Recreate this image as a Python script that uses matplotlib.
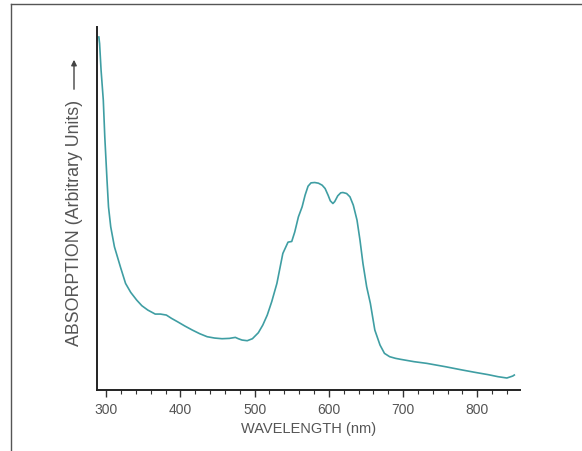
import matplotlib
matplotlib.use("Agg")
import matplotlib.pyplot as plt
from matplotlib.lines import Line2D
from matplotlib.ticker import MultipleLocator

# absorption spectrum (arbitrary units)
wavelength = [290, 291, 293, 296, 298, 301, 303, 306, 311, 315, 319, 326, 333,
              341, 348, 356, 366, 373, 381, 388, 396, 406, 416, 426, 436, 446,
              456, 466, 474, 478, 483, 490, 497, 505, 511, 517, 523, 530, 538,
              545, 550, 554, 559, 564, 568, 572, 576, 581, 586, 591, 595, 599,
              602, 605.5, 608, 612, 616, 619, 624, 628.5, 633, 638, 642, 646,
              651, 656, 662, 669, 675, 682, 690, 697, 715, 732, 757, 780, 797,
              815, 828, 840, 848, 850]
absorption = [106, 104, 96, 87, 76, 63, 55, 49, 43, 40, 37, 32, 29.3,
              27, 25.3, 24, 22.8, 22.8, 22.5, 21.5, 20.5, 19.2, 18, 16.9, 16, 15.6,
              15.4, 15.5, 15.8, 15.4, 15.0, 14.8, 15.4, 17.2, 19.5, 22.5, 26.5, 32, 41,
              44.4, 44.6, 47.4, 52, 55, 58.5, 61.2, 62.2, 62.3, 62.1, 61.5, 60.5, 58.5,
              56.8, 56, 56.6, 58.3, 59.2, 59.3, 59, 58, 55.5, 51, 45, 38,
              31, 26, 18, 13.5, 11, 10, 9.5, 9.2, 8.5, 8, 7, 6, 5.3,
              4.6, 4, 3.6, 4.2, 4.5]
xticks = [300, 400, 500, 600, 700, 800]

text_col = "#555555"
plt.rcParams["font.family"] = ["Liberation Sans", "DejaVu Sans"]

fig = plt.figure(figsize=(5.82, 4.51), dpi=100)
ax = fig.add_axes([97 / 582, 1 - 390 / 451, (520 - 97) / 582, (390 - 27) / 451])

ax.plot(wavelength, absorption, color="#3f9ea3", lw=1.2)

ax.set_xlim(287.5, 857.7)
ax.set_ylim(0, 109)
ax.set_xticks(xticks)
ax.xaxis.set_minor_locator(MultipleLocator(20))
ax.set_yticks([])
ax.tick_params(axis="x", which="major", direction="out", length=5, width=1,
               colors="#333333", labelcolor=text_col, labelsize=10, pad=4)
ax.tick_params(axis="x", which="minor", direction="out", length=3, width=0.8,
               colors="#333333")
for s in ["top", "right"]:
    ax.spines[s].set_visible(False)
for s in ["left", "bottom"]:
    ax.spines[s].set_color("#222222")
    ax.spines[s].set_linewidth(1.4)

ax.set_xlabel("WAVELENGTH (nm)", fontsize=10.5, color=text_col, labelpad=4)

# rotated y label with an arrow after it
fig.text(75 / 582, 1 - 223 / 451, "ABSORPTION (Arbitrary Units)", rotation=90,
         ha="center", va="center", fontsize=12.8, color=text_col)
ax.annotate("", xy=(74 / 582, 1 - 57 / 451), xytext=(74 / 582, 1 - 92 / 451),
            xycoords="figure fraction", textcoords="figure fraction",
            arrowprops=dict(arrowstyle="-|>", color="#444444", lw=1,
                            mutation_scale=8))

# page frame lines
fig.add_artist(Line2D([11 / 582, 11 / 582], [1 - 4 / 451, 0], color="#555555", lw=1))
fig.add_artist(Line2D([11 / 582, 1], [1 - 4 / 451, 1 - 4 / 451], color="#555555", lw=1))

fig.savefig("out.png", dpi=100)
